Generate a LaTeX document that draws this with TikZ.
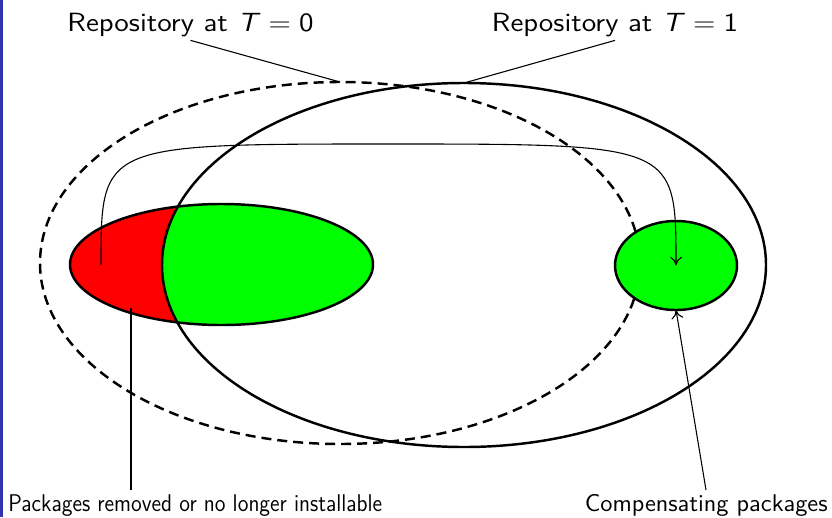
\documentclass[tikz,border=0pt]{standalone}
\usetikzlibrary{shapes.geometric,arrows.meta}
\definecolor{barblue}{RGB}{51,51,178}
\newcommand{\pxu}{0.55pt}
\begin{document}
\begin{tikzpicture}[x=0.55pt,y=-0.55pt,
  ell/.style={ellipse, inner sep=0pt, outer sep=0pt, line width=1.35pt},
  thinline/.style={line width=0.6pt},
  tip/.style={-{To[length=4.8pt,width=6.5pt]}},
  toplbl/.style={font=\sffamily\fontsize{14.5}{17}\selectfont, inner sep=2pt},
  botlbl/.style={font=\sffamily\fontsize{13.3}{16}\selectfont, inner sep=0pt}]
\useasboundingbox (0,0) rectangle (832,517);
\fill[barblue] (0,0) rectangle (3,517);
% dashed repository T=0
\node[ell, draw, dash pattern=on 5.5pt off 3.3pt, minimum width=600*\pxu, minimum height=362*\pxu] (E0) at (340,263) {};
% coloured ellipse
\fill[red] (221.5,264.5) ellipse [x radius=151.5, y radius=60.5];
\begin{scope}
  \clip (464,265) ellipse [x radius=302, y radius=182];
  \fill[green] (221.5,264.5) ellipse [x radius=151.5, y radius=60.5];
\end{scope}
\node[ell, draw, minimum width=303*\pxu, minimum height=121*\pxu] (C) at (221.5,264.5) {};
% small compensating ellipse
\node[ell, draw, fill=green, minimum width=122*\pxu, minimum height=89*\pxu] (S) at (676,265.5) {};
% solid repository T=1
\node[ell, draw, minimum width=604*\pxu, minimum height=364*\pxu] (E1) at (464,265) {};
% labels
\node[toplbl, anchor=base] (T0) at (190.5,31) {\scalebox{1.12}[1]{Repository at \textit{T}${}={}$0}};
\node[toplbl, anchor=base] (T1) at (615,31) {\scalebox{1.12}[1]{Repository at \textit{T}${}={}$1}};
\node[botlbl, anchor=base west] (PR) at (8,511) {\scalebox{0.905}[1]{Packages removed or no longer installable}};
\node[botlbl, anchor=base east] (CP) at (828,511) {\scalebox{1.03}[1]{Compensating packages}};
% connectors
\coordinate (start) at (101,265);
\coordinate (mid) at (388,144);
\coordinate (prend) at (131,308);
\coordinate (prtop) at (131,490);
\coordinate (cptop) at (706,490);
\draw[thinline] (T0.south) -- (E0.north);
\draw[thinline] (T1.south) -- (E1.north);
\draw[thinline,tip] (start) .. controls (start |- mid) .. (mid) .. controls (S.center |- mid) .. (S.center);
\draw[thinline] (prtop) -- (prend);
\draw[thinline,tip] (cptop) -- (S.south);
\end{tikzpicture}
\end{document}
